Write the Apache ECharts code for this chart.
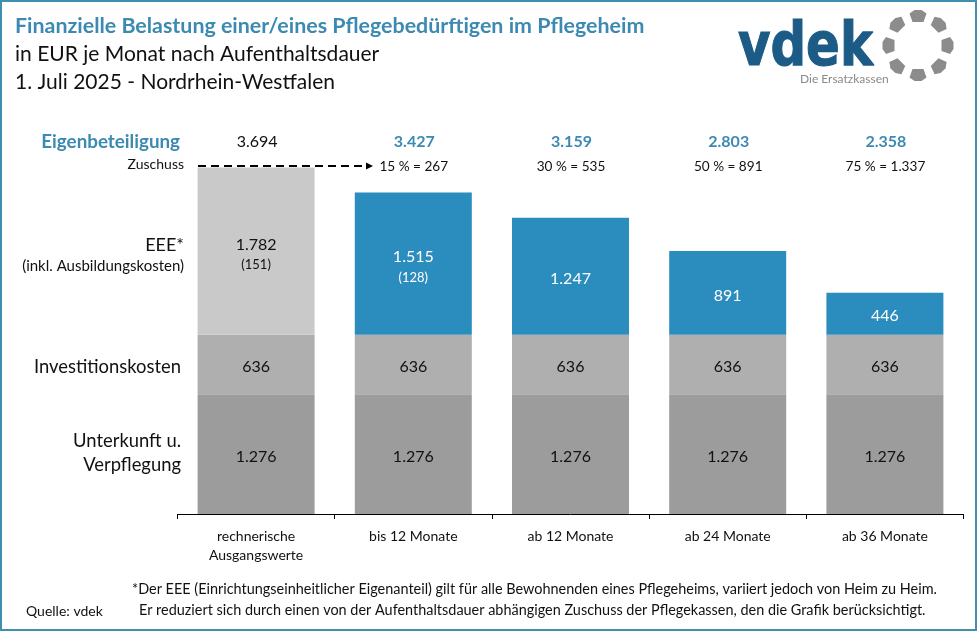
<!DOCTYPE html>
<html><head><meta charset="utf-8">
<script src="https://cdn.jsdelivr.net/npm/echarts@6/dist/echarts.min.js"></script>
<style>html,body{margin:0;padding:0;background:#fff}#c{width:977px;height:631px}</style></head>
<body><div id="c"></div>
<script>
const categories = ['rechnerische\nAusgangswerte','bis 12 Monate','ab 12 Monate','ab 24 Monate','ab 36 Monate'];
const unterkunft = [1276,1276,1276,1276,1276];
const investition = [636,636,636,636,636];
const eee = [1782,1515,1247,891,446];
const ausbildung = [151,128,null,null,null];
const eigenbeteiligung = [3694,3427,3159,2803,2358];
const zuschussProzent = [null,15,30,50,75];
const zuschussBetrag = [null,267,535,891,1337];

const FONT = 'Lato';
const BLUE = '#3c8ab2', BAR = '#2b8cbe', INK = '#111';
const de = v => String(v).replace(/\B(?=(\d{3})+$)/g,'.');
const chart = echarts.init(document.getElementById('c'),null,{renderer:'canvas'});
const segLabel = {show:true,position:'inside',offset:[0,2.5],color:INK,fontFamily:FONT,fontSize:16,formatter:p=>de(p.value)};
chart.setOption({
  animation:false,
  grid:{left:177.5,width:786,top:138.8,bottom:117},
  xAxis:{type:'category',data:categories,
    axisLine:{lineStyle:{color:'#000',width:1}},
    axisTick:{show:true,length:5,alignWithLabel:false,lineStyle:{color:'#000'},inside:false},
    axisLabel:{color:INK,fontFamily:FONT,fontSize:14,lineHeight:19,margin:13,interval:0}},
  yAxis:{type:'value',min:0,max:4000,show:false,splitLine:{show:false}},
  series:[
    {name:'Unterkunft u. Verpflegung',type:'bar',stack:'k',barWidth:117,data:unterkunft,itemStyle:{color:'#9c9c9c'},label:segLabel},
    {name:'Investitionskosten',type:'bar',stack:'k',data:investition,itemStyle:{color:'#afafaf'},label:segLabel},
    {name:'EEE',type:'bar',stack:'k',
     data:eee.map((v,i)=>({value:v,itemStyle:{color:i===0?'#c9c9c9':BAR}})),
     label:{show:true,position:'inside',offset:[0,2.5],fontFamily:FONT,
       formatter:p=>{const a=ausbildung[p.dataIndex];const t=p.dataIndex===0?'d':'w';
         return '{'+t+'|'+de(p.value)+'}'+(a!=null?'\n{'+t+'s|('+a+')}':'');},
       rich:{d:{color:INK,fontSize:16,fontFamily:FONT,lineHeight:23},ds:{color:INK,fontSize:13,fontFamily:FONT,lineHeight:18},
             w:{color:'#fff',fontSize:16,fontFamily:FONT,lineHeight:23},ws:{color:'#fff',fontSize:13,fontFamily:FONT,lineHeight:18}}}}
  ]
});

const T=(x,y,text,o={})=>({type:'text',x,y:y+1,silent:true,style:Object.assign({text,fill:INK,font:`${o.w||'normal'} ${o.s||15}px ${FONT}`,textAlign:o.a||'left',textVerticalAlign:'middle'},o.f?{fill:o.f}:{})});
const els=[];
els.push({type:'rect',shape:{x:1,y:1,width:975,height:629},style:{fill:null,stroke:'#3f8fb0',lineWidth:2},silent:true});
els.push(T(15,25.5,'Finanzielle Belastung einer/eines Pflegebedürftigen im Pflegeheim',{s:21.4,w:'bold',f:BLUE}));
els.push(T(15,53.5,'in EUR je Monat nach Aufenthaltsdauer',{s:21}));
els.push(T(15,81.5,'1. Juli 2025 - Nordrhein-Westfalen',{s:21}));
els.push(T(180,141,'Eigenbeteiligung',{s:18.8,w:'bold',f:BLUE,a:'right'}));
els.push(T(184,163,'Zuschuss',{s:14,a:'right'}));
els.push(T(184,244,'EEE*',{s:18,a:'right'}));
els.push(T(184,265,'(inkl. Ausbildungskosten)',{s:15,a:'right'}));
els.push(T(181,366,'Investitionskosten',{s:18.4,a:'right'}));
els.push(T(181,440,'Unterkunft u.',{s:18.4,a:'right'}));
els.push(T(181,464,'Verpflegung',{s:18.4,a:'right'}));
els.push(T(132,588,'*Der EEE (Einrichtungseinheitlicher Eigenanteil) gilt für alle Bewohnenden eines Pflegeheims, variiert jedoch von Heim zu Heim.',{s:14.45}));
els.push(T(139,609,'Er reduziert sich durch einen von der Aufenthaltsdauer abhängigen Zuschuss der Pflegekassen, den die Grafik berücksichtigt.',{s:14.45}));
els.push(T(26,610,'Quelle: vdek',{s:14}));
eigenbeteiligung.forEach((v,i)=>{
  const cx=chart.convertToPixel({xAxisIndex:0},i);
  els.push(T(cx+1,141,de(v),{s:16,w:i?'bold':'normal',f:i?BLUE:INK,a:'center'}));
  if(zuschussProzent[i]!=null) els.push(T(cx+0.5,166,zuschussProzent[i]+' % = '+de(zuschussBetrag[i]),{s:13.6,a:'center'}));
});
els.push({type:'line',shape:{x1:198,y1:166,x2:367,y2:166},style:{stroke:'#000',lineWidth:2,lineDash:[8,5]},silent:true});
els.push({type:'polygon',shape:{points:[[366,162.5],[373,166],[366,169.5]]},style:{fill:'#000'},silent:true});
els.push({type:'text',x:738,y:79.5,scaleX:0.83,silent:true,style:{text:'vdek',fill:'#1b5b86',stroke:'#1b5b86',lineWidth:1.2,font:'bold 60px "DejaVu Sans"',textAlign:'left',textVerticalAlign:'bottom'}});
els.push(T(800,78,'Die Ersatzkassen',{s:12,f:'#8a8a8a'}));
const hx=[[-8.5,-3],[-3.5,-6.5],[3.5,-6.5],[8.5,-3],[5.5,5.5],[-5.5,5.5]];
for(let k=0;k<8;k++){const a=k*Math.PI/4, r=29;
  els.push({type:'polygon',x:918+r*Math.sin(a),y:45.5-r*Math.cos(a),rotation:-a,shape:{points:hx},style:{fill:'#8c8c8c'},silent:true});}
chart.setOption({graphic:{elements:els}});
</script></body></html>
